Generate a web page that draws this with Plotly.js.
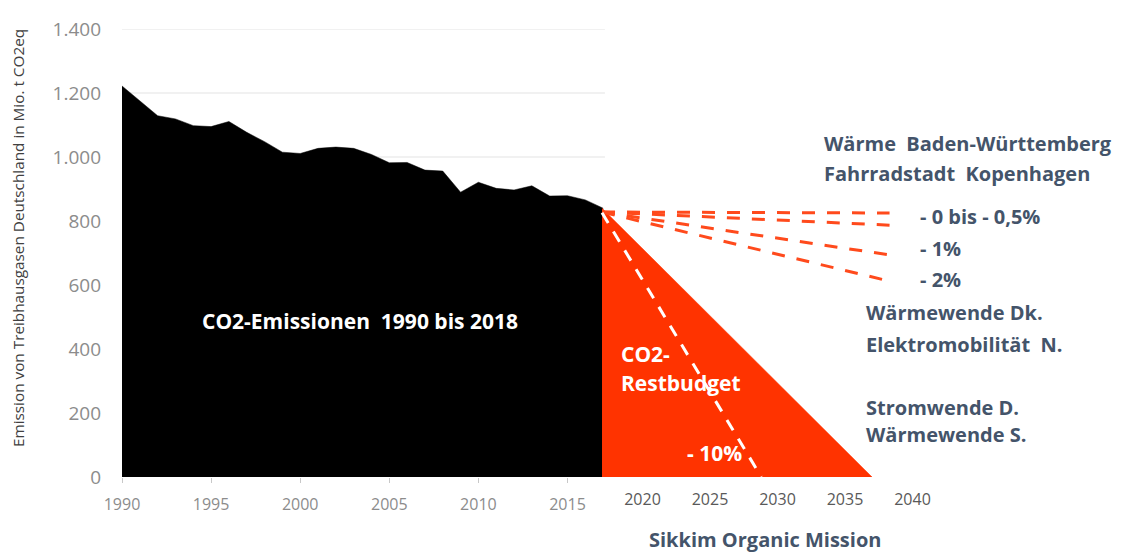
<!DOCTYPE html>
<html>
<head>
<meta charset="utf-8">
<script src="https://cdn.plot.ly/plotly-3.0.1.min.js"></script>
<style>html,body{margin:0;padding:0;background:#fff;}#chart{width:1122px;height:555px;}</style>
</head>
<body>
<div id="chart"></div>
<script>
// Historical emissions (Mio. t CO2eq)
const years = [1990,1991,1992,1993,1994,1995,1996,1997,1998,1999,2000,2001,2002,2003,2004,2005,2006,2007,2008,2009,2010,2011,2012,2013,2014,2015,2016,2017];
const emissions = [1222,1175,1129,1119,1098,1095,1111,1077,1048,1015,1011,1027,1031,1027,1008,982,983,959,956,890,921,902,897,910,878,879,866,840];

// CO2 residual budget triangle
const budgetYears = [2017, 2037, 2017];
const budgetValues = [840, 0, 0];

// Reduction paths
const pathYears = [2017, 2038.3];
const pathZero = [828, 825];
const pathHalf = [828, 787];
const pathOne = [828, 694];
const pathTwo = [828, 612];
const tenYears = [2017, 2028.8];
const pathTen = [826, 0];

// Tick labels
const histTicks = [1990,1995,2000,2005,2010,2015];
const futureTicks = [2020,2025,2030,2035,2040];
const yTicks = [0,200,400,600,800,1000,1200,1400];
const yTitle = 'Emission von Treibhausgasen Deutschland in Mio. t CO2eq';

const red = '#ff3300';
const dashRed = '#ff4a1c';
const slate = '#44546a';
const F = 'Open Sans, Noto Sans, sans-serif';

const traces = [
  {x: years, y: emissions, type: 'scatter', mode: 'lines', fill: 'tozeroy',
   fillcolor: '#000000', line: {color: '#000000', width: 0.5}, xaxis: 'x', yaxis: 'y', hoverinfo: 'skip'},
  {x: budgetYears, y: budgetValues, type: 'scatter', mode: 'lines', fill: 'toself',
   fillcolor: red, line: {color: red, width: 0.5}, xaxis: 'x2', yaxis: 'y', hoverinfo: 'skip'},
  {x: pathYears, y: pathZero, type: 'scatter', mode: 'lines', line: {color: dashRed, width: 3, dash: '13px,12px'}, xaxis: 'x2', yaxis: 'y', hoverinfo: 'skip'},
  {x: pathYears, y: pathHalf, type: 'scatter', mode: 'lines', line: {color: dashRed, width: 3, dash: '13px,12px'}, xaxis: 'x2', yaxis: 'y', hoverinfo: 'skip'},
  {x: pathYears, y: pathOne, type: 'scatter', mode: 'lines', line: {color: dashRed, width: 3, dash: '13px,12px'}, xaxis: 'x2', yaxis: 'y', hoverinfo: 'skip'},
  {x: pathYears, y: pathTwo, type: 'scatter', mode: 'lines', line: {color: dashRed, width: 3, dash: '13px,12px'}, xaxis: 'x2', yaxis: 'y', hoverinfo: 'skip'},
  {x: tenYears, y: pathTen, type: 'scatter', mode: 'lines', line: {color: '#ffffff', width: 3, dash: '12px,10px'}, xaxis: 'x2', yaxis: 'y', hoverinfo: 'skip'}
];

// plot area in pixels: left 122, width 998, top 29, height 448
const L = 122, W = 998, T = 29, H = 448;
const px = v => (v - L) / W;
const py = v => (T + H - v) / H;

function note(text, x, y, opts) {
  return Object.assign({
    text: text, xref: 'paper', yref: 'paper', x: px(x), y: py(y),
    xanchor: 'left', yanchor: 'middle', showarrow: false,
    font: {family: F, size: 20, color: slate, weight: 700}
  }, opts || {});
}
const whiteFont = {family: F, size: 21, color: '#ffffff', weight: 700};

const annotations = [
  note('Wärme\u00a0 Baden-Württemberg', 822, 143),
  note('Fahrradstadt\u00a0 Kopenhagen', 822, 173),
  note('- 0 bis - 0,5%', 918, 217),
  note('- 1%', 918, 248),
  note('- 2%', 918, 279),
  note('Wärmewende Dk.', 864, 312),
  note('Elektromobilität\u00a0 N.', 864, 344),
  note('Stromwende D.', 864, 407),
  note('Wärmewende S.', 864, 434),
  note('Sikkim Organic Mission', 765, 539, {xanchor: 'center'}),
  note('CO2-Emissionen\u00a0 1990 bis 2018', 360, 321, {xanchor: 'center', font: whiteFont}),
  note('CO2-', 619, 354, {font: whiteFont}),
  note('Restbudget', 619, 383, {font: whiteFont}),
  note('- 10%', 685, 453, {font: whiteFont}),
  note(yTitle, 18, 238, {xanchor: 'center', textangle: -90, font: {family: F, size: 15.3, color: '#404040'}})
];

const shapes = yTicks.filter(v => v > 0).map(v => ({
  type: 'line', xref: 'x', yref: 'y', x0: 1990, x1: 2017.1, y0: v, y1: v,
  line: {color: '#e3e3e3', width: 1}, layer: 'below'
}));

const layout = {
  width: 1122, height: 555,
  margin: {l: L, r: 1122 - L - W, t: T, b: 555 - T - H},
  paper_bgcolor: '#ffffff', plot_bgcolor: '#ffffff',
  showlegend: false,
  separators: ',.',
  xaxis: {
    domain: [0, 1], range: [1990, 1990 + W / 17.82], tickmode: 'array', tickvals: histTicks,
    ticks: 'outside', ticklen: 5, tickcolor: '#c8c8c8', tickwidth: 1, ticklabelstandoff: 8,
    tickfont: {family: F, size: 16, color: '#8c8c8c'},
    showgrid: false, zeroline: false, showline: false, fixedrange: true
  },
  xaxis2: {
    overlaying: 'x', anchor: 'y', side: 'bottom',
    range: [1981.444, 1981.444 + W / 13.5], tickmode: 'array', tickvals: futureTicks,
    ticks: '', ticklabelstandoff: 11,
    tickfont: {family: F, size: 16, color: '#595959'},
    showgrid: false, zeroline: false, showline: false, fixedrange: true
  },
  yaxis: {
    range: [0, 1400], tickmode: 'array', tickvals: yTicks, tickformat: ',d',
    ticks: '', ticklabelstandoff: 20,
    tickfont: {family: F, size: 19, color: '#8c8c8c'},
    showgrid: false, zeroline: false, showline: false, fixedrange: true
  },
  shapes: shapes,
  annotations: annotations
};

Plotly.newPlot('chart', traces, layout, {staticPlot: true, displayModeBar: false});
</script>
</body>
</html>
